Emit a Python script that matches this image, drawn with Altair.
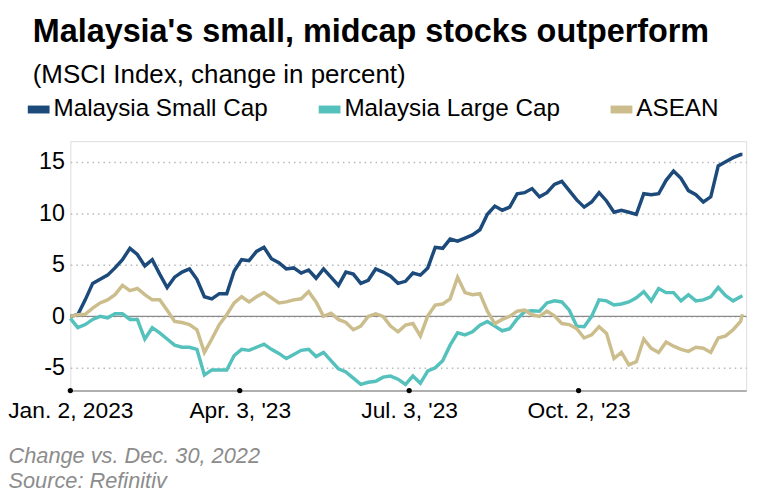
import json
import altair as alt
import pandas as pd

# ---- data ----
dates = pd.date_range("2023-01-02", periods=91, freq="4D").strftime("%Y-%m-%d").tolist() + ["2023-12-29"]

small_cap = [
    0, 0.15, 1.6, 3.2, 3.6, 4.0, 4.7, 5.5, 6.6, 6.0,
    4.9, 5.5, 4.1, 2.8, 3.8, 4.3, 4.6, 3.6, 1.9, 1.7,
    2.2, 2.2, 4.4, 5.5, 5.4, 6.3, 6.7, 5.6, 5.2, 4.6,
    4.7, 4.2, 4.5, 3.7, 4.6, 3.8, 3.0, 4.3, 4.1, 3.2,
    3.5, 4.6, 4.3, 3.9, 3.2, 3.4, 4.2, 4.0, 4.7, 6.7,
    6.6, 7.5, 7.3, 7.6, 7.9, 8.4, 9.9, 10.7, 10.3, 10.6,
    11.9, 12.0, 12.4, 11.6, 12.0, 12.8, 13.1, 12.2, 11.3, 10.6,
    11.1, 12.0, 11.2, 10.1, 10.3, 10.1, 9.9, 11.9, 11.8, 11.9,
    13.2, 14.1, 13.4, 12.2, 11.8, 11.1, 11.6, 14.6, 15.0, 15.4,
    15.7, 15.7,
]
large_cap = [
    -0.2, -1.1, -0.8, -0.3, 0, -0.15, 0.25, 0.25, -0.3, -0.3,
    -2.2, -1.1, -1.6, -2.2, -2.8, -3.0, -3.0, -3.2, -5.7, -5.2,
    -5.2, -5.2, -3.8, -3.2, -3.3, -3.0, -2.7, -3.2, -3.6, -4.1,
    -3.7, -3.3, -3.2, -3.9, -3.5, -4.3, -5.1, -5.4, -6.0, -6.6,
    -6.4, -6.3, -5.9, -5.8, -6.1, -6.6, -5.8, -6.5, -5.3, -5.0,
    -4.3, -2.8, -1.6, -1.8, -1.5, -0.85, -0.5, -0.95, -1.4, -1.2,
    -0.25, 0.45, 0.55, 0.5, 1.3, 1.5, 1.4, 0.6, -0.95, -1.0,
    0, 1.6, 1.5, 1.1, 1.2, 1.4, 1.8, 2.4, 1.5, 2.7,
    2.3, 2.3, 1.5, 2.1, 1.5, 1.6, 1.9, 2.8, 2.0, 1.5,
    1.9, 2.0,
]
asean = [
    0, 0.15, 0.2, 0.8, 1.3, 1.6, 2.1, 3.0, 2.5, 2.7,
    2.1, 1.6, 1.6, 0.6, -0.5, -0.6, -0.8, -1.3, -3.5, -2.2,
    -0.8, 0.15, 1.3, 1.9, 1.4, 1.9, 2.3, 1.8, 1.3, 1.4,
    1.6, 1.7, 2.4, 1.4, 0, 0.3, -0.3, -0.6, -1.3, -0.95,
    0, 0.25, 0, -0.95, -1.5, -0.85, -0.7, -1.9, 0.05, 1.1,
    1.2, 1.7, 3.8, 2.3, 2.1, 2.2, 0.5, -0.7, -0.3, 0,
    0.5, 0.6, 0.15, 0, 0.5, 0.05, -0.7, -0.8, -1.2, -2.1,
    -1.8, -1.0, -1.65, -4.1, -3.5, -4.7, -4.4, -2.2, -3.1, -3.5,
    -2.5, -2.9, -3.2, -3.4, -3.0, -3.1, -3.5, -2.1, -1.9, -1.3,
    -0.5, 0.2,
]

series_names = ["Malaysia Small Cap", "Malaysia Large Cap", "ASEAN"]
series_colors = ["#1b4a7b", "#55c1bc", "#cbbd8c"]

tick_dates = ["2023-01-02", "2023-04-03", "2023-07-03", "2023-10-02"]
tick_labels = ["Jan. 2, 2023", "Apr. 3, '23", "Jul. 3, '23", "Oct. 2, '23"]
y_ticks = [-5, 0, 5, 10, 15]
y_domain = [-7.2, 17]
x_domain = ["2023-01-02", "2023-12-31"]
zero_level = [0]

title_text = "Malaysia's small, midcap stocks outperform"
subtitle_text = "(MSCI Index, change in percent)"
footer_lines = ["Change vs. Dec. 30, 2022", "Source: Refinitiv"]

FONT = "Liberation Sans"

# ---- tables ----
rows = []
for name, vals in zip(series_names, [small_cap, large_cap, asean]):
    for d, v in zip(dates, vals):
        rows.append({"date": d, "series": name, "value": v})
df = pd.DataFrame(rows)
ticks_df = pd.DataFrame({"date": tick_dates, "y": [y_domain[0]] * len(tick_dates)})
zero_df = pd.DataFrame({"v": zero_level})


def dt(s):
    y, m, d = (int(p) for p in s.split("-"))
    return alt.DateTime(year=y, month=m, date=d, utc=True)


label_expr = " : ".join(
    f"utcmonth(datum.value) == {int(d[5:7]) - 1} ? {json.dumps(l)}"
    for d, l in zip(tick_dates, tick_labels)
) + " : ''"

x_scale = alt.Scale(type="utc", domain=[dt(x_domain[0]), dt(x_domain[1])])
y_scale = alt.Scale(domain=y_domain, nice=False, zero=False)

x_axis = alt.Axis(
    values=[dt(d) for d in tick_dates],
    labelExpr=label_expr,
    grid=False, ticks=False,
    domainColor="#9a9a9a", domainWidth=1.5,
    labelFont=FONT, labelFontSize=23, labelColor="#000", labelPadding=9,
    labelFlush=False, labelOverlap=False, labelBound=False,
    title=footer_lines,
    titleFont=FONT, titleFontSize=22, titleFontStyle="italic", titleFontWeight="normal",
    titleColor="#8c8c8c", titleAnchor="start", titleAlign="left",
    titleX=-63, titleY=73, titleBaseline="alphabetic", titleLineHeight=25,
)
y_axis = alt.Axis(
    values=y_ticks, labelExpr="'' + datum.value",
    title=None, domain=False, ticks=False,
    labelFont=FONT, labelFontSize=23.5, labelColor="#000", labelPadding=6,
    gridColor="#b8b8b8", gridDash=[1.5, 4], gridWidth=1.5,
)

lines = alt.Chart(df).mark_line(strokeWidth=3.5).encode(
    x=alt.X("date:T", scale=x_scale, axis=x_axis),
    y=alt.Y("value:Q", scale=y_scale, axis=y_axis),
    color=alt.Color(
        "series:N",
        scale=alt.Scale(domain=series_names, range=series_colors),
        sort=series_names,
        legend=alt.Legend(
            orient="none", legendX=-47, legendY=-47, direction="horizontal",
            title=None, symbolType="stroke", symbolStrokeWidth=8, symbolSize=484,
            labelFont=FONT, labelFontSize=24.5, labelColor="#000", labelOffset=0,
            labelLimit=400, columnPadding=35, symbolOpacity=1,
        ),
    ),
    order=alt.Order("date:T"),
)

zero_rule = alt.Chart(zero_df).mark_rule(color="#8a8a8a", strokeWidth=1.3).encode(
    y=alt.Y("v:Q", title=None)
)

dots = alt.Chart(ticks_df).mark_circle(size=28, color="#000", opacity=1).encode(
    x=alt.X("date:T"),
    y=alt.Y("y:Q", title=None),
)

chart = alt.layer(zero_rule, lines, dots).properties(
    width=683,
    height=252,
    padding={"left": 63, "top": 132, "right": 15, "bottom": 104},
    autosize=alt.AutoSizeParams(type="none"),
    title=alt.TitleParams(
        text=title_text,
        subtitle=subtitle_text,
        anchor="start", frame="group", dx=-38,
        font=FONT, fontSize=32.7, fontWeight="bold", color="#000",
        subtitleFont=FONT, subtitleFontSize=26.2, subtitleColor="#000",
        subtitlePadding=13, offset=7,
    ),
).configure_view(stroke=None).configure(font=FONT)

chart.save("out.html", embed_options={"renderer": "svg", "actions": False})
